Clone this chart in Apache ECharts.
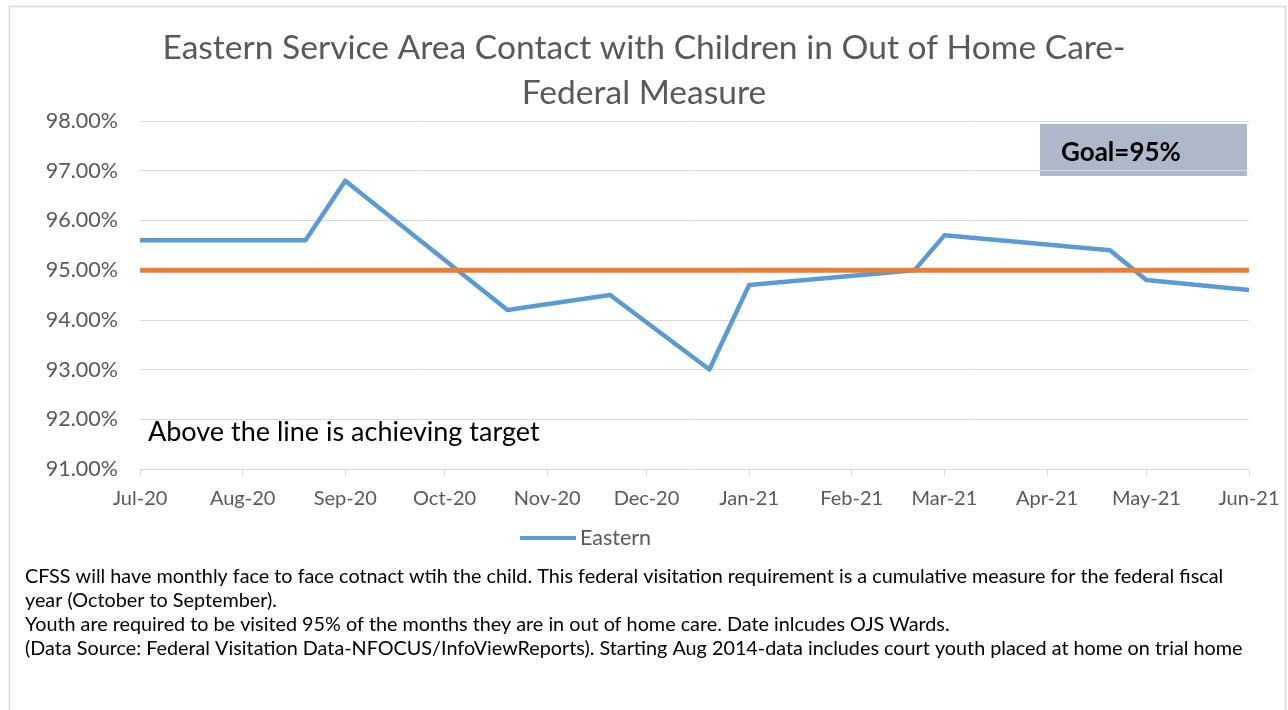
<!DOCTYPE html>
<html>
<head>
<meta charset="utf-8">
<title>Eastern Service Area Contact</title>
<script src="https://cdn.jsdelivr.net/npm/echarts@6/dist/echarts.min.js"></script>
<style>
  html, body { margin: 0; padding: 0; background: #fff; }
  #main { width: 1288px; height: 710px; }
</style>
</head>
<body>
<div id="main"></div>
<script>
// data
var dates = ['2020-07-01', '2020-08-20', '2020-09-01', '2020-10-20', '2020-11-20', '2020-12-20',
             '2021-01-01', '2021-02-20', '2021-03-01', '2021-04-20', '2021-05-01', '2021-06-01'];
var eastern = [95.6, 95.6, 96.8, 94.2, 94.5, 93.0, 94.7, 95.0, 95.7, 95.4, 94.8, 94.6];
var goal = [95, 95, 95, 95, 95, 95, 95, 95, 95, 95, 95, 95];
var monthNames = ['Jan', 'Feb', 'Mar', 'Apr', 'May', 'Jun', 'Jul', 'Aug', 'Sep', 'Oct', 'Nov', 'Dec'];
var notes = [
    'CFSS will have monthly face to face cotnact wtih the child. This federal visitation requirement is a cumulative measure for the federal fiscal',
    'year (October to September).',
    'Youth are required to be visited 95% of the months they are in out of home care. Date inlcudes OJS Wards.',
    '(Data Source: Federal Visitation Data-NFOCUS/InfoViewReports). Starting Aug 2014-data includes court youth placed at home on trial home'
];

var font = 'Lato, "Open Sans", sans-serif';

function pairs(xs, ys) {
    var out = [];
    for (var i = 0; i < xs.length; i++) {
        out.push([xs[i], ys[i]]);
    }
    return out;
}

var myChart = echarts.init(document.getElementById('main'));

var noteGraphics = [];
for (var i = 0; i < notes.length; i++) {
    noteGraphics.push({
        type: 'text',
        left: 25,
        top: 567 + i * 24,
        style: { text: notes[i], fill: '#000', font: '19.8px ' + font }
    });
}

var option = {
    animation: false,
    textStyle: { fontFamily: font },
    title: {
        text: 'Eastern Service Area Contact with Children in Out of Home Care-\nFederal Measure',
        left: 'center',
        top: 21,
        textStyle: { fontSize: 33.6, fontWeight: 'normal', color: '#595959', lineHeight: 45, fontFamily: font }
    },
    legend: {
        data: ['Eastern'],
        left: 515,
        top: 522,
        icon: 'rect',
        itemWidth: 56,
        itemHeight: 4,
        itemStyle: { color: '#5b9bd5' },
        textStyle: { fontSize: 21.5, color: '#595959', fontFamily: font, padding: [0, 0, 0, -1] }
    },
    grid: { left: 140, right: 39, top: 121, bottom: 241 },
    xAxis: {
        type: 'time',
        min: '2020-07-01',
        max: '2021-06-01',
        splitNumber: 11,
        minInterval: 28 * 86400000,
        maxInterval: 31 * 86400000,
        axisLine: { lineStyle: { color: '#d9d9d9', width: 1 } },
        axisTick: { show: true, length: 7, lineStyle: { color: '#d9d9d9' } },
        splitLine: { show: false },
        axisLabel: {
            color: '#595959',
            fontSize: 20,
            margin: 20,
            showMinLabel: true,
            showMaxLabel: true,
            hideOverlap: false,
            formatter: function (val) {
                var d = new Date(val);
                return monthNames[d.getMonth()] + '-' + String(d.getFullYear()).slice(2);
            }
        }
    },
    yAxis: {
        type: 'value',
        min: 91,
        max: 98,
        interval: 1,
        axisLine: { show: false },
        axisTick: { show: false },
        splitLine: { lineStyle: { color: '#d9d9d9', width: 1 } },
        axisLabel: {
            color: '#595959',
            fontSize: 21.5,
            margin: 22,
            formatter: function (v) { return v.toFixed(2) + '%'; }
        }
    },
    series: [
        {
            name: 'Eastern',
            type: 'line',
            data: pairs(dates, eastern),
            symbol: 'none',
            lineStyle: { color: '#5b9bd5', width: 4.5, join: 'round' },
            itemStyle: { color: '#5b9bd5' }
        },
        {
            name: 'Goal',
            type: 'line',
            data: pairs(dates, goal),
            symbol: 'none',
            lineStyle: { color: '#ed7d31', width: 5 },
            itemStyle: { color: '#ed7d31' }
        }
    ],
    graphic: [
        {
            type: 'rect',
            left: 7,
            top: 4,
            shape: { width: 1276, height: 720 },
            style: { fill: 'none', stroke: '#d9d9d9', lineWidth: 1.5 },
            z: -1
        },
        {
            type: 'text',
            left: 148,
            top: 419,
            style: { text: 'Above the line is achieving target', fill: '#000', font: '27px ' + font }
        },
        {
            type: 'group',
            left: 1040,
            top: 124,
            children: [
                {
                    type: 'rect',
                    shape: { x: 0, y: 0, width: 207, height: 52 },
                    style: { fill: '#adb9ca' }
                },
                {
                    type: 'text',
                    x: 21,
                    y: 16,
                    style: { text: 'Goal=95%', fill: '#000', font: 'bold 26px ' + font }
                }
            ]
        }
    ].concat(noteGraphics)
};

myChart.setOption(option);
</script>
</body>
</html>
